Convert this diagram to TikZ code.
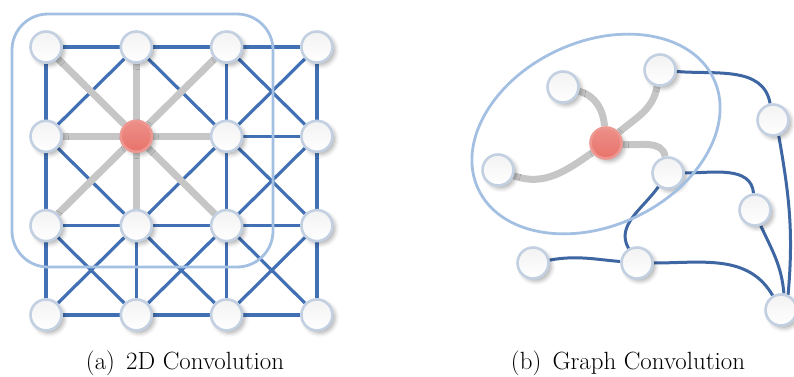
\documentclass[tikz,border=0pt]{standalone}
\usetikzlibrary{backgrounds,shadows.blur}
\definecolor{latticeblue}{HTML}{4170B4}
\definecolor{pathblue}{HTML}{3E66A2}
\definecolor{framelight}{HTML}{A3C0E3}
\definecolor{spokegray}{HTML}{C6C6C6}
\definecolor{ringgray}{HTML}{C2D0E2}
\definecolor{hubred}{HTML}{E8736B}

\begin{document}
\begin{tikzpicture}[x=1bp, y=1bp,
  slot/.style={circle, line width=2.6bp, minimum size=31bp, inner sep=0pt},
  vertex/.style={slot, draw=ringgray, top color=black!5, bottom color=white,
    blur shadow={shadow xshift=3bp, shadow yshift=-3bp,
      shadow blur radius=4bp, shadow opacity=30}},
  hub/.style={vertex, draw=hubred!75!white, top color=hubred!80!white, bottom color=hubred},
  lattice/.style={draw=latticeblue, line width=3.2bp},
  spoke/.style={draw=spokegray, line width=7bp},
  graphedge/.style={draw=pathblue, line width=3bp},
  frame/.style={draw=framelight, line width=2.8bp},
  caption/.style={font=\fontsize{25}{29}\selectfont, inner sep=0pt, anchor=base},
]
  \useasboundingbox (0,0) rectangle (794,376);

  % (a) regular grid: places first, then edges, then the drawn vertices
  \foreach \i in {1,...,4}{
    \foreach \j in {1,...,4}{
      \node[slot] (g-\i-\j) at ({46+90.3*(\i-1)}, {329-89.3*(\j-1)}) {};
    }}
  \foreach \i in {1,...,4}{
    \foreach \j [evaluate=\j as \k using int(\j+1)] in {1,2,3}{
      \draw[lattice] (g-\i-\j) -- (g-\i-\k);
      \draw[lattice] (g-\j-\i) -- (g-\k-\i);
    }}
  \foreach \i [evaluate=\i as \ii using int(\i+1)] in {1,2,3}{
    \foreach \j [evaluate=\j as \jj using int(\j+1)] in {1,2,3}{
      \draw[lattice] (g-\i-\j) -- (g-\ii-\jj);
      \draw[lattice] (g-\ii-\j) -- (g-\i-\jj);
    }}
  \foreach \a/\b in {1/1,2/1,3/1,1/2,3/2,1/3,2/3,3/3}
    \draw[spoke] (g-2-2) -- (g-\a-\b);
  \foreach \i in {1,...,4}{
    \foreach \j in {1,...,4}{
      \ifnum\i\j=22 \def\kind{hub}\else\def\kind{vertex}\fi
      \node[\kind] (g-\i-\j) at ({46+90.3*(\i-1)}, {329-89.3*(\j-1)}) {};
    }}
  \draw[frame, rounded corners=36bp] (12,362) rectangle (273,109);
  \node[caption] (cap-grid) at (185,7) {(a)\hspace{0.45em}2D Convolution};

  % (b) graph
  \node[vertex] (v-a) at (563,289) {};
  \node[vertex] (v-b) at (660,306) {};
  \node[hub]    (v-c) at (606,233) {};
  \node[vertex] (v-d) at (498,206) {};
  \node[vertex] (v-e) at (668,203) {};
  \node[vertex] (v-f) at (773,256) {};
  \node[vertex] (v-g) at (755,166) {};
  \node[vertex] (v-h) at (533,113) {};
  \node[vertex] (v-i) at (637,113) {};
  \node[vertex] (v-j) at (781,66) {};
  \begin{scope}[on background layer]
    \draw[spoke] (v-a) to[out=-15, in=95] (v-c);
    \draw[spoke] (v-b) to[out=-100, in=40] (v-c);
    \draw[spoke] (v-d) to[out=-20, in=-145] (v-c);
    \draw[spoke] (v-c) to[out=-5, in=100] (v-e);
    \draw[graphedge] (v-b) to[out=-5, in=100] (v-f);
    \draw[graphedge] (v-f.-70) to[out=-80, in=85] (v-j.65);
    \draw[graphedge] (v-e) to[out=0, in=95] (v-g);
    \draw[graphedge] (v-g.-70) to[out=-65, in=95] (v-j.80);
    \draw[graphedge] (v-e) to[out=-125, in=120] (v-i);
    \draw[graphedge] (v-h) to[out=10, in=175] (v-i);
    \draw[graphedge] (v-i) to[out=0, in=120] (v-j);
  \end{scope}
  \draw[frame, rotate around={25:(596,242)}] (596,242) ellipse [x radius=130, y radius=92];
  \node[caption] (cap-graph) at (628,7) {(b)\hspace{0.45em}Graph Convolution};
\end{tikzpicture}
\end{document}
